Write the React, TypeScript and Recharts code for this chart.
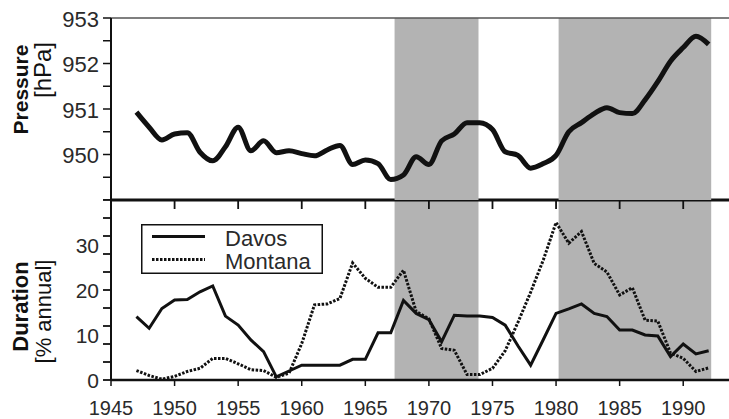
import React from "react";
import {
  LineChart,
  Line,
  XAxis,
  YAxis,
  ReferenceArea,
  ReferenceLine,
  Legend,
} from "recharts";

// yearly values
const years = [
  1947, 1948, 1949, 1950, 1951, 1952, 1953, 1954, 1955, 1956, 1957, 1958,
  1959, 1960, 1961, 1962, 1963, 1964, 1965, 1966, 1967, 1968, 1969, 1970,
  1971, 1972, 1973, 1974, 1975, 1976, 1977, 1978, 1979, 1980, 1981, 1982,
  1983, 1984, 1985, 1986, 1987, 1988, 1989, 1990, 1991, 1992,
];

const pressure = [
  950.93, 950.6, 950.32, 950.45, 950.48, 950.05, 949.86, 950.17, 950.6,
  950.08, 950.3, 950.04, 950.08, 950.02, 949.97, 950.1, 950.2, 949.78,
  949.88, 949.8, 949.45, 949.55, 949.95, 949.78, 950.3, 950.45, 950.7,
  950.7, 950.55, 950.06, 949.98, 949.7, 949.8, 949.98, 950.5, 950.7, 950.9,
  951.03, 950.92, 950.9, 951.2, 951.6, 952.05, 952.35, 952.6, 952.42,
];

const davos = [
  14.1, 11.5, 15.9, 17.8, 17.9, 19.6, 20.9, 14.2, 12.2, 8.9, 6.3, 0.7, 2.0,
  3.3, 3.3, 3.3, 3.3, 4.6, 4.6, 10.5, 10.5, 17.7, 14.8, 13.4, 8.5, 14.4,
  14.2, 14.2, 13.9, 12.2, 7.6, 3.3, 9.0, 14.8, 15.8, 16.9, 14.8, 14.1, 11.1,
  11.1, 10.0, 9.8, 5.2, 8.0, 5.8, 6.5,
];

const montana = [
  2.1, 1.0, 0.2, 0.8, 1.9, 2.6, 4.8, 4.8, 3.6, 2.3, 2.1, 0.6, 1.5, 8.1, 16.7,
  16.9, 18.1, 26.0, 22.6, 20.6, 20.6, 24.4, 15.2, 13.6, 7.0, 6.6, 1.2, 1.2,
  2.6, 6.5, 12.8, 19.5, 26.7, 35.0, 30.4, 33.0, 25.9, 24.0, 18.9, 20.5, 13.3,
  13.1, 6.0, 4.8, 1.9, 2.7,
];

const shadedPeriods = [
  [1967.3, 1973.9],
  [1980.2, 1992.2],
];

const xDomain = [1945, 1993.6];
const xTicks = [1945, 1950, 1955, 1960, 1965, 1970, 1975, 1980, 1985, 1990];
const pressureTicks = [949, 949.5, 950, 950.5, 951, 951.5, 952, 952.5, 953];
const pressureLabels = [950, 951, 952, 953];
const durationMarks = [0, 4, 8, 12, 16, 20, 24, 28, 32, 36, 40];
const durationLabels = [0, 10, 20, 30];
const durationTicks = [0, 4, 8, 10, 12, 16, 20, 24, 28, 30, 32, 36, 40];

const pressureData = years.map((year, i) => ({ year, pressure: pressure[i] }));
const durationData = years.map((year, i) => ({
  year,
  davos: davos[i],
  montana: montana[i],
}));

const FONT = "'Liberation Sans', Arial, Helvetica, sans-serif";
const INK = "#111";
const TEXT = "#2a2a2a";
const SHADE = "#b3b3b3";

const series = [
  { key: "davos", name: "Davos", dash: undefined as string | undefined },
  { key: "montana", name: "Montana", dash: "2.5 1.5" },
];

function PressureTick(props: any) {
  const { x, y, payload } = props;
  if (!pressureLabels.includes(payload.value)) return <g />;
  return (
    <text x={x} y={y} dy="0.4em" textAnchor="end" fontSize={22} fill={TEXT} fontFamily={FONT}>
      {payload.value}
    </text>
  );
}

function DurationTick(props: any) {
  const { x, y, payload } = props;
  const v = payload.value;
  return (
    <g>
      {durationMarks.includes(v) && (
        <line x1={x + 4} x2={x + 12} y1={y} y2={y} stroke={INK} strokeWidth={1.8} />
      )}
      {durationLabels.includes(v) && (
        <text x={x} y={y} dy="0.36em" textAnchor="end" fontSize={21} fill={TEXT} fontFamily={FONT}>
          {v}
        </text>
      )}
    </g>
  );
}

function axisTitle(title: string, unit: string, titleSize: number, unitSize: number, cy1: number, cy2: number) {
  return (props: any) => {
    const vb = props.viewBox || { x: 0, y: 0 };
    const y1 = vb.y + cy1;
    const y2 = vb.y + cy2;
    return (
      <g fontFamily={FONT} fill={INK}>
        <text x={28} y={y1} textAnchor="middle" fontSize={titleSize} fontWeight="bold" transform={`rotate(-90, 28, ${y1})`}>
          {title}
        </text>
        <text x={51} y={y2} textAnchor="middle" fontSize={unitSize} transform={`rotate(-90, 51, ${y2})`}>
          {unit}
        </text>
      </g>
    );
  };
}

function LegendBox() {
  return (
    <svg width={182} height={50} style={{ display: "block" }}>
      <rect x={0.75} y={0.75} width={180.5} height={48.5} fill="#fff" stroke={INK} strokeWidth={1.5} />
      {series.map((s, i) => (
        <g key={s.key}>
          <line x1={11} x2={64} y1={12.5 + i * 23} y2={12.5 + i * 23} stroke={INK} strokeWidth={3} strokeDasharray={s.dash} />
          <text x={84} y={14.5 + i * 23} dy="0.36em" fontSize={22} fill={TEXT} fontFamily={FONT}>
            {s.name}
          </text>
        </g>
      ))}
    </svg>
  );
}

export default function App() {
  return (
    <div style={{ position: "absolute", left: 0, top: 0, width: 729, height: 419, background: "#fff", fontFamily: FONT }}>
      {/* duration panel */}
      <div style={{ position: "absolute", left: 0, top: 190 }}>
        <LineChart width={729} height={229} data={durationData} margin={{ top: 10, right: 0, left: 0, bottom: 0 }}>
          {shadedPeriods.map(([a, b]) => (
            <ReferenceArea key={`area-${a}`} x1={a} x2={b} fill={SHADE} fillOpacity={1} stroke="none" />
          ))}
          <XAxis
            dataKey="year"
            type="number"
            domain={xDomain}
            ticks={xTicks}
            interval={0}
            allowDataOverflow
            height={39}
            tickSize={6}
            tickMargin={15}
            axisLine={{ stroke: INK, strokeWidth: 2.5 }}
            tickLine={{ stroke: INK, strokeWidth: 1.5 }}
            tick={{ fontSize: 20, fill: TEXT, fontFamily: FONT }}
          />
          <YAxis
            type="number"
            domain={[0, 40]}
            ticks={durationTicks}
            interval={0}
            width={111}
            tickSize={8}
            tickMargin={4}
            tickLine={false}
            axisLine={{ stroke: INK, strokeWidth: 2 }}
            tick={DurationTick}
            label={axisTitle("Duration", "[% annual]", 22, 22, 106.5, 111.5)}
          />
          <ReferenceLine y={40} stroke={INK} strokeWidth={3} />
          <Legend
            layout="horizontal"
            verticalAlign="middle"
            align="center"
            content={() => <LegendBox />}
            wrapperStyle={{ left: 141, top: 34, width: 182, height: 50 }}
          />
          {series.map((s) => (
            <Line
              key={s.key}
              dataKey={s.key}
              name={s.name}
              type="linear"
              stroke={INK}
              strokeWidth={3}
              strokeDasharray={s.dash}
              dot={false}
              isAnimationActive={false}
            />
          ))}
        </LineChart>
      </div>
      {/* pressure panel */}
      <div style={{ position: "absolute", left: 0, top: 0 }}>
        <LineChart width={729} height={200} data={pressureData} margin={{ top: 18, right: 0, left: 0, bottom: 0 }}>
          {shadedPeriods.map(([a, b]) => (
            <ReferenceArea key={`area-${a}`} x1={a} x2={b} fill={SHADE} fillOpacity={1} stroke="none" />
          ))}
          <XAxis dataKey="year" type="number" domain={xDomain} allowDataOverflow hide height={0} />
          <YAxis
            type="number"
            domain={[949, 953]}
            ticks={pressureTicks}
            interval={0}
            width={111}
            tickSize={8}
            tickMargin={4}
            axisLine={{ stroke: INK, strokeWidth: 2 }}
            tickLine={{ stroke: INK, strokeWidth: 1.5 }}
            tick={PressureTick}
            label={axisTitle("Pressure", "[hPa]", 21, 24, 71.5, 52)}
          />
          <ReferenceLine y={953} stroke="#555" strokeWidth={1.5} />
          <Line
            dataKey="pressure"
            type="monotone"
            stroke={INK}
            strokeWidth={5}
            strokeLinejoin="round"
            dot={false}
            isAnimationActive={false}
          />
        </LineChart>
      </div>
      {/* year ticks hanging under the pressure panel: a bare x axis on the same scale */}
      <div style={{ position: "absolute", left: 0, top: 180 }}>
        <LineChart width={729} height={32} data={pressureData} margin={{ top: 0, right: 0, left: 111, bottom: 0 }}>
          <XAxis
            dataKey="year"
            type="number"
            domain={xDomain}
            ticks={xTicks}
            interval={0}
            allowDataOverflow
            height={12}
            tickSize={9}
            tickMargin={0}
            axisLine={false}
            tickLine={{ stroke: INK, strokeWidth: 1.8 }}
            tickFormatter={() => ""}
          />
          <YAxis hide domain={[949, 953]} />
        </LineChart>
      </div>
    </div>
  );
}
